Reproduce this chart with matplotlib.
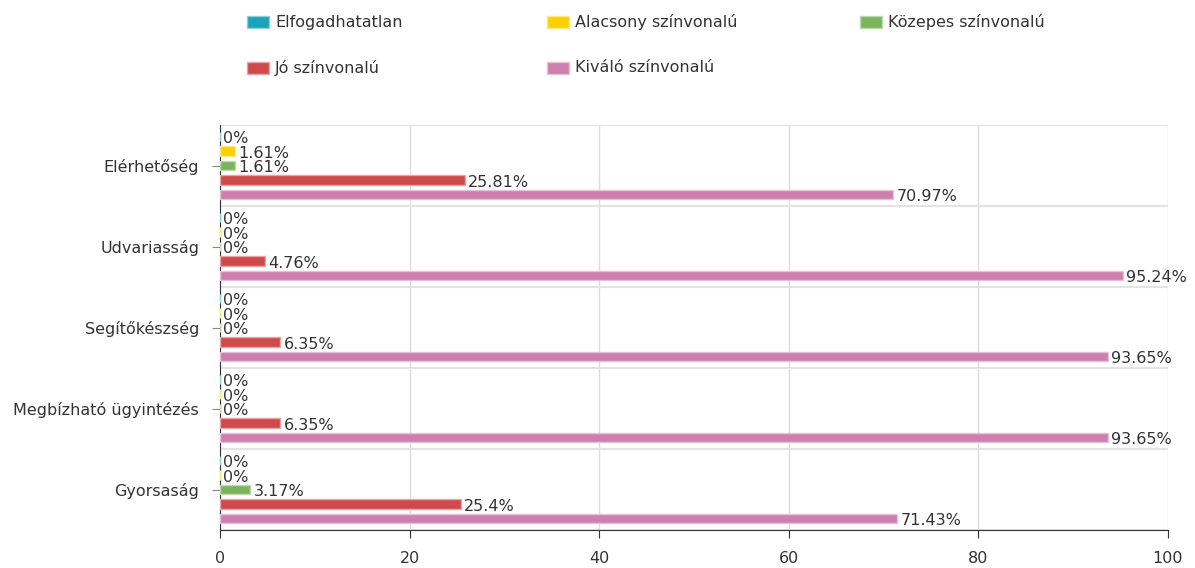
import numpy as np
import matplotlib.pyplot as plt
from matplotlib.patches import Rectangle

categories = ['Elérhetőség', 'Udvariasság', 'Segítőkészség', 'Megbízható ügyintézés', 'Gyorsaság']
series_names = ['Elfogadhatatlan', 'Alacsony színvonalú', 'Közepes színvonalú', 'Jó színvonalú', 'Kiváló színvonalú']
elfogadhatatlan = [0, 0, 0, 0, 0]
alacsony = [1.61, 0, 0, 0, 0]
kozepes = [1.61, 0, 0, 0, 3.17]
jo = [25.81, 4.76, 6.35, 6.35, 25.4]
kivalo = [70.97, 95.24, 93.65, 93.65, 71.43]
colors = ['#1aa3b9', '#fdd100', '#7ab55c', '#cf4a4a', '#cd80b0']
edges = ['#8fd0db', '#fee88a', '#bddaae', '#e8a5a5', '#e6c0d8']

series = [elfogadhatatlan, alacsony, kozepes, jo, kivalo]
text_col = '#333333'
fs = 11.5

plt.rcParams['font.family'] = ['DejaVu Sans']
fig = plt.figure(figsize=(11.95, 5.68), dpi=100)
ax = fig.add_axes([220 / 1195, 1 - 530 / 568, 948 / 1195, 405 / 568])

y = np.arange(len(categories))
step = 0.179
bar_h = 0.12
for i, (vals, c, ec) in enumerate(zip(series, colors, edges)):
    pos = y + (i - 2) * step
    ax.barh(pos, vals, height=bar_h, color=c, edgecolor=ec, linewidth=1, zorder=3)
    for p, v in zip(pos, vals):
        ax.annotate(f'{v:g}%', (v, p), xytext=(2.5, -1.5), textcoords='offset points',
                    va='center', ha='left', fontsize=fs, color=text_col, zorder=4)

ax.set_xlim(0, 100)
ax.set_ylim(len(categories) - 0.5, -0.5)
ax.set_xticks([0, 20, 40, 60, 80, 100])
ax.set_yticks(y)
ax.set_yticklabels(categories)
ax.set_yticks(np.arange(len(categories) + 1) - 0.5, minor=True)
ax.tick_params(axis='y', which='major', length=6, pad=9, colors='#888888',
               labelcolor=text_col, labelsize=fs)
ax.tick_params(axis='y', which='minor', length=0)
ax.tick_params(axis='x', length=6, pad=9, colors='#333333', labelcolor=text_col, labelsize=fs)
ax.grid(axis='x', color='#dddddd', linewidth=1, zorder=0)
ax.grid(axis='y', which='minor', color='#e3e3e3', linewidth=1.5, zorder=0)
for s in ['top', 'right']:
    ax.spines[s].set_visible(False)
ax.spines['left'].set_color('#333333')
ax.spines['bottom'].set_color('#333333')

# legend laid out in two rows like the original
leg_x = [247, 547, 860, 247, 547]
leg_y = [22, 22, 22, 68, 68]
for name, c, ec, lx, ly in zip(series_names, colors, edges, leg_x, leg_y):
    fig.patches.append(Rectangle((lx / 1195, 1 - (ly + 6) / 568), 22 / 1195, 12 / 568,
                                 transform=fig.transFigure, facecolor=c, edgecolor=ec, linewidth=1))
    fig.text((lx + 28) / 1195, 1 - ly / 568, name, va='center', ha='left',
             fontsize=fs, color=text_col)

fig.savefig('out.png', dpi=100)
